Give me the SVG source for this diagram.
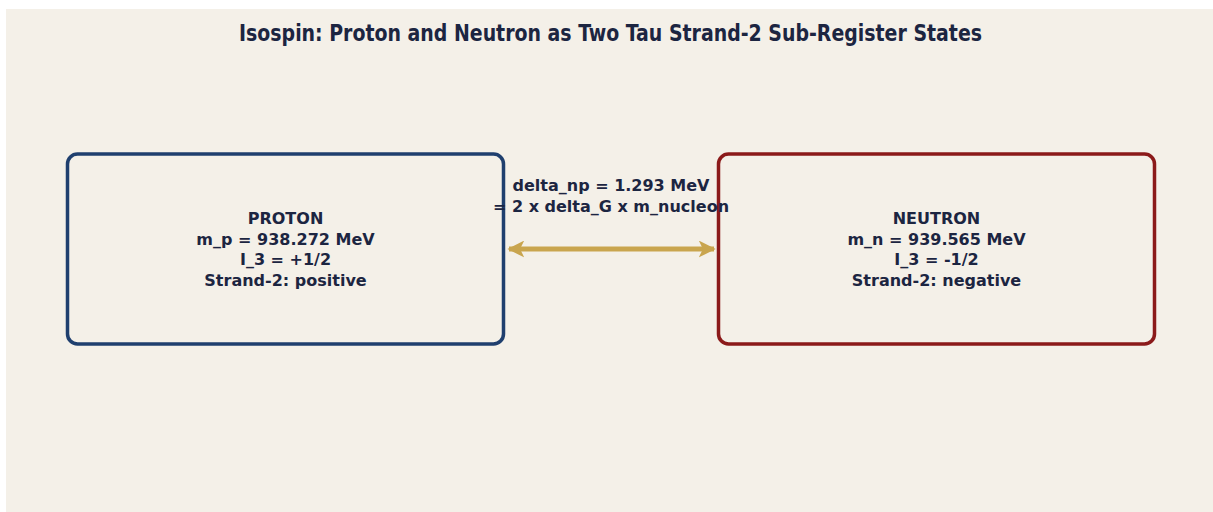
<svg xmlns="http://www.w3.org/2000/svg" width="1213" height="512" viewBox="0 0 1213 512">
<style>
.bg{fill:#F4F0E8}
.box{fill:#F4F0E8;stroke-width:3.5}
.t{font-family:"DejaVu Sans",sans-serif;font-weight:bold;font-size:16px;fill:#1C2541;text-anchor:middle}
.title{font-family:"DejaVu Sans Condensed","DejaVu Sans",sans-serif;font-weight:bold;font-size:23px;font-stretch:condensed;fill:#1C2541}
</style>
<defs>
<marker id="ah" viewBox="0 0 10 10" refX="9" refY="5" markerWidth="3.4" markerHeight="3.4" orient="auto-start-reverse">
<path d="M0,0 L10,5 L0,10 L2.5,5 z" fill="#C9A54E"/>
</marker>
</defs>
<rect width="1213" height="512" fill="#FFFFFF"/>
<rect class="bg" x="6" y="9" width="1207" height="503"/>
<text class="title" x="239" y="41" textLength="743" lengthAdjust="spacingAndGlyphs">Isospin: Proton and Neutron as Two Tau Strand-2 Sub-Register States</text>
<g id="proton">
<rect class="box" x="67.5" y="154" width="436" height="190" rx="10" stroke="#1F3F6E"/>
<text class="t" x="285.5" y="224">PROTON</text>
<text class="t" x="285.5" y="245">m_p = 938.272 MeV</text>
<text class="t" x="285.5" y="265">I_3 = +1/2</text>
<text class="t" x="285.5" y="286">Strand-2: positive</text>
</g>
<g id="neutron">
<rect class="box" x="718.5" y="154" width="436" height="190" rx="10" stroke="#8B1A1A"/>
<text class="t" x="936.5" y="224">NEUTRON</text>
<text class="t" x="936.5" y="245">m_n = 939.565 MeV</text>
<text class="t" x="936.5" y="265">I_3 = -1/2</text>
<text class="t" x="936.5" y="286">Strand-2: negative</text>
</g>
<g id="connectors">
<line x1="509" y1="249" x2="714" y2="249" stroke="#C9A54E" stroke-width="5" marker-start="url(#ah)" marker-end="url(#ah)"/>
<text class="t" x="611" y="191">delta_np = 1.293 MeV</text>
<text class="t" x="611" y="212">= 2 x delta_G x m_nucleon</text>
</g>
</svg>
